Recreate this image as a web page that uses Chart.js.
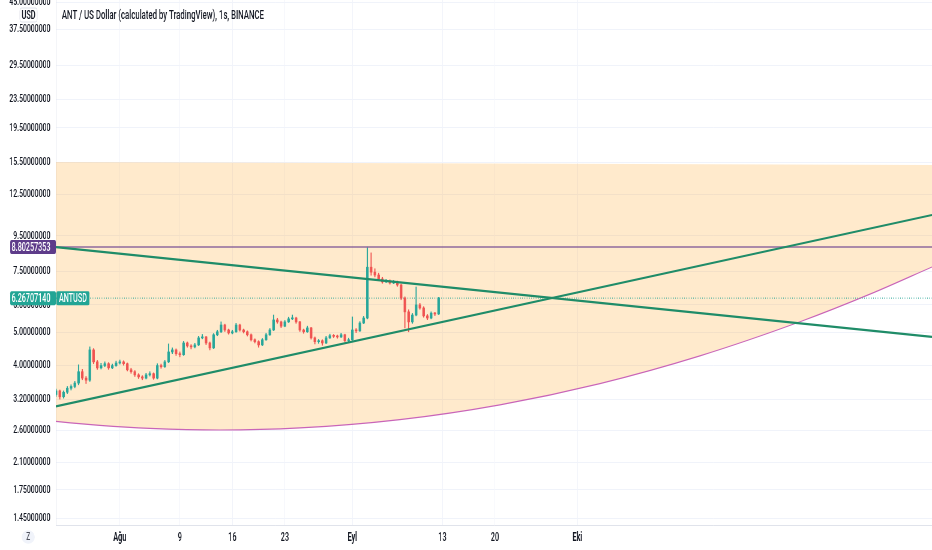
<!DOCTYPE html>
<html>
<head>
<meta charset="utf-8">
<script src="https://cdn.jsdelivr.net/npm/chart.js@4.4.1/dist/chart.umd.min.js"></script>
<style>
  html, body { margin: 0; padding: 0; background: #fff; overflow: hidden; }
  #wrap { width: 1553px; height: 550px; transform-origin: 0 0; }
</style>
</head>
<body>
<div id="wrap"><canvas id="chart" width="1553" height="550"></canvas></div>
<script>
// the reference screenshot is squeezed sideways, so draw wide and scale x down
const W = 1553;
const SQUISH = 932 / W;
document.getElementById('wrap').style.transform = `scaleX(${SQUISH})`;

const FONT = "Roboto, 'Liberation Sans', Arial, sans-serif";
const TITLE = 'ANT / US Dollar (calculated by TradingView), 1s, BINANCE';

// x axis is days counted from 1 Aug
const xMin = -8.53;
const xMax = 108.27;
const dayTicks = [0, 8, 15, 22, 31, 43, 50, 61];
const dayLabels = ['Ağu', '9', '16', '23', 'Eyl', '13', '20', 'Eki'];

const yMin = 1.384;
const yMax = 45.61;
const priceTicks = [1.45, 1.75, 2.1, 2.6, 3.2, 4, 5, 6, 7.5, 9.5, 12.5, 15.5, 19.5, 23.5, 29.5, 37.5, 45];

// 12h candles from 23 Jul 12:00
const candleStart = -8.5;
const candleStep = 0.5;
const opens = [3.30, 3.38, 3.25, 3.35, 3.44, 3.48, 3.56, 3.84, 3.68, 3.63,
  4.44, 4.10, 3.94, 4.00, 4.05, 3.94, 4.00, 4.07, 4.10, 4.05,
  3.89, 3.84, 3.76, 3.71, 3.68, 3.76, 3.79, 3.68, 4.00, 3.97,
  4.10, 4.38, 4.44, 4.33, 4.30, 4.65, 4.56, 4.53, 4.59, 4.81,
  4.84, 4.65, 4.50, 4.91, 5.01, 5.24, 5.07, 4.97, 5.01, 5.24,
  5.07, 5.01, 4.91, 4.75, 4.69, 4.59, 4.75, 4.91, 5.07, 5.42,
  5.35, 5.20, 5.35, 5.46, 5.49, 5.35, 5.07, 5.01, 5.14, 4.81,
  4.69, 4.72, 4.65, 4.81, 4.88, 4.86, 4.84, 4.91, 4.72, 4.75,
  5.07, 5.04, 5.31, 5.49, 7.70, 7.45, 7.31, 7.12, 6.98, 7.02,
  6.93, 6.98, 6.84, 6.27, 5.72, 5.35, 5.60, 5.99, 5.87, 5.57,
  5.49, 5.67, 5.64];
const highs = [3.42, 3.40, 3.38, 3.48, 3.52, 3.60, 4.02, 3.90, 3.72, 4.53,
  4.48, 4.14, 4.06, 4.10, 4.08, 4.04, 4.12, 4.15, 4.13, 4.07,
  3.93, 3.87, 3.79, 3.74, 3.80, 3.84, 3.81, 4.05, 4.04, 4.14,
  4.62, 4.50, 4.47, 4.38, 4.70, 4.68, 4.60, 4.64, 4.86, 4.92,
  4.86, 4.68, 4.95, 5.06, 5.35, 5.27, 5.10, 5.06, 5.30, 5.27,
  5.10, 5.04, 4.94, 4.78, 4.72, 4.79, 4.96, 5.12, 5.60, 5.48,
  5.38, 5.40, 5.52, 5.60, 5.52, 5.37, 5.10, 5.20, 5.16, 4.84,
  4.76, 4.75, 4.86, 4.93, 4.92, 4.90, 4.96, 4.93, 4.80, 5.53,
  5.12, 5.36, 5.55, 8.80, 8.47, 7.62, 7.40, 7.20, 7.10, 7.08,
  7.05, 7.02, 6.88, 6.32, 5.80, 5.66, 6.75, 6.05, 5.92, 5.62,
  5.72, 5.70, 6.30];
const lows = [3.26, 3.20, 3.22, 3.32, 3.40, 3.45, 3.52, 3.64, 3.55, 3.60,
  4.05, 3.90, 3.91, 3.97, 3.90, 3.92, 3.98, 4.04, 4.01, 3.86,
  3.80, 3.72, 3.67, 3.64, 3.66, 3.73, 3.65, 3.66, 3.93, 3.95,
  4.08, 4.33, 4.28, 4.24, 4.28, 4.52, 4.47, 4.50, 4.57, 4.78,
  4.60, 4.44, 4.48, 4.88, 4.98, 5.02, 4.93, 4.94, 4.99, 5.03,
  4.97, 4.87, 4.71, 4.65, 4.52, 4.57, 4.73, 4.89, 5.05, 5.30,
  5.15, 5.18, 5.33, 5.43, 5.30, 5.02, 4.96, 4.99, 4.77, 4.62,
  4.64, 4.58, 4.63, 4.79, 4.82, 4.80, 4.82, 4.68, 4.66, 4.73,
  4.98, 5.02, 5.29, 5.46, 7.30, 7.22, 7.05, 6.92, 6.95, 6.88,
  6.90, 6.78, 6.20, 5.14, 5.01, 5.30, 5.57, 5.82, 5.52, 5.43,
  5.46, 5.58, 5.62];
const closes = [3.38, 3.25, 3.35, 3.44, 3.48, 3.56, 3.84, 3.68, 3.63, 4.44,
  4.10, 3.94, 4.00, 4.05, 3.94, 4.00, 4.07, 4.10, 4.05, 3.89,
  3.84, 3.76, 3.71, 3.68, 3.76, 3.79, 3.68, 4.00, 3.97, 4.10,
  4.38, 4.44, 4.33, 4.30, 4.65, 4.56, 4.53, 4.59, 4.81, 4.84,
  4.65, 4.50, 4.91, 5.01, 5.24, 5.07, 4.97, 5.01, 5.24, 5.07,
  5.01, 4.91, 4.75, 4.69, 4.59, 4.75, 4.91, 5.07, 5.42, 5.35,
  5.20, 5.35, 5.46, 5.49, 5.35, 5.07, 5.01, 5.14, 4.81, 4.69,
  4.72, 4.65, 4.81, 4.88, 4.86, 4.84, 4.91, 4.72, 4.75, 5.07,
  5.04, 5.31, 5.49, 7.70, 7.45, 7.31, 7.12, 6.98, 7.02, 6.93,
  6.98, 6.84, 6.27, 5.72, 5.35, 5.60, 5.99, 5.87, 5.57, 5.49,
  5.67, 5.64, 6.27];

// drawings
const levelPrice = 8.80257353;
const lastPrice = 6.26707140;
const edgeDays = [xMin, xMax];
const fallLineValues = [8.80, 4.84];
const riseLineValues = [3.05, 10.90];
const zoneTopValues = [15.52, 15.21];
const curveDays = [-8.53, -2.67, 4, 13.33, 24, 37.33, 50.67, 64, 77.33, 90.67, 100, 108.27];
const curveValues = [2.758, 2.686, 2.633, 2.605, 2.642, 2.792, 3.081, 3.548, 4.267, 5.354, 6.434, 7.712];

const UP = '#26a69a';
const DOWN = '#ef5350';
const TEAL = '#22a595';
const PURPLE = '#5e3c8a';
const LEVEL = '#8f6a9c';
const TREND = '#1f8c68';

const candleDays = closes.map((_, i) => candleStart + i * candleStep);
const candleColors = closes.map((c, i) => (c >= opens[i] ? UP : DOWN));
const pts = (days, vals) => days.map((d, i) => ({ x: d, y: vals[i] }));

const overlay = {
  id: 'overlay',
  afterDraw(chart) {
    const { ctx, chartArea } = chart;
    const y = chart.scales.y;
    ctx.save();
    ctx.textBaseline = 'middle';

    const box = (x, top, w, h, r, color) => {
      ctx.fillStyle = color;
      ctx.beginPath();
      ctx.roundRect(x, top, w, h, r);
      ctx.fill();
    };

    // price tags on the axis
    ctx.font = `500 12px ${FONT}`;
    const tag = (value, color) => {
      const py = y.getPixelForValue(value);
      box(17, py - 7, chartArea.left - 17, 14, 2, color);
      ctx.fillStyle = '#fff';
      ctx.textAlign = 'right';
      ctx.fillText(value.toFixed(8), chartArea.left - 9, py + 0.5);
      return py;
    };
    tag(levelPrice, PURPLE);
    const lastY = tag(lastPrice, TEAL);
    box(chartArea.left + 1, lastY - 7, 55, 14, 2, TEAL);
    ctx.fillStyle = '#fff';
    ctx.textAlign = 'center';
    ctx.fillText('ANTUSD', chartArea.left + 28.5, lastY + 0.5);

    // currency badge
    ctx.fillStyle = '#fff';
    ctx.strokeStyle = '#e0e3eb';
    ctx.beginPath();
    ctx.roundRect(33, 8, 29, 14, 3);
    ctx.fill();
    ctx.stroke();
    ctx.fillStyle = '#131722';
    ctx.fillText('USD', 47.5, 15.5);

    // symbol title
    ctx.font = `500 13px ${FONT}`;
    ctx.textAlign = 'left';
    ctx.fillText(TITLE, 103, 15.5);

    // "Z" button, widened so it looks round after the squeeze
    ctx.fillStyle = '#f0f3fa';
    ctx.beginPath();
    ctx.ellipse(47, 537, 11, 6.8, 0, 0, Math.PI * 2);
    ctx.fill();
    ctx.fillStyle = '#50535e';
    ctx.font = `500 11px ${FONT}`;
    ctx.textAlign = 'center';
    ctx.fillText('Z', 47, 537.5);
    ctx.restore();
  }
};

new Chart(document.getElementById('chart'), {
  type: 'bar',
  data: {
    datasets: [
      {
        type: 'line', data: pts(edgeDays, zoneTopValues), order: 9,
        borderWidth: 0, pointRadius: 0, fill: false
      },
      {
        type: 'line', data: pts(curveDays, curveValues), order: 8,
        borderColor: '#c965b8', borderWidth: 1.2, pointRadius: 0,
        cubicInterpolationMode: 'monotone',
        fill: { target: 0 }, backgroundColor: 'rgba(255, 152, 0, 0.2)'
      },
      {
        type: 'line', data: pts(edgeDays, [lastPrice, lastPrice]), order: 6,
        borderColor: TEAL, borderWidth: 1, borderDash: [1, 2], pointRadius: 0
      },
      {
        data: candleDays.map((d, i) => ({ x: d, y: [lows[i], highs[i]] })), order: 3,
        backgroundColor: candleColors, barThickness: 1.2, grouped: false
      },
      {
        data: candleDays.map((d, i) => ({ x: d, y: [opens[i], closes[i]] })), order: 2,
        backgroundColor: candleColors, barThickness: 3.5, minBarLength: 1, grouped: false
      },
      {
        type: 'line', data: pts(edgeDays, [levelPrice, levelPrice]), order: 1,
        borderColor: LEVEL, borderWidth: 1.5, pointRadius: 0
      },
      {
        type: 'line', data: pts(edgeDays, fallLineValues), order: 0,
        borderColor: TREND, borderWidth: 2.2, pointRadius: 0
      },
      {
        type: 'line', data: pts(edgeDays, riseLineValues), order: 0,
        borderColor: TREND, borderWidth: 2.2, pointRadius: 0
      }
    ]
  },
  options: {
    responsive: false,
    animation: false,
    devicePixelRatio: 1,
    layout: { padding: 0 },
    plugins: { legend: { display: false }, tooltip: { enabled: false } },
    scales: {
      x: {
        type: 'linear', min: xMin, max: xMax, offset: false,
        grid: { color: '#f0f3fa', drawTicks: false, offset: false },
        border: { color: '#e0e3eb' },
        afterBuildTicks: (s) => { s.ticks = dayTicks.map((v) => ({ value: v })); },
        afterFit: (s) => { s.height = 25; s.paddingLeft = 0; s.paddingRight = 0; },
        ticks: {
          autoSkip: false, maxRotation: 0, padding: 6, color: '#131722',
          font: (c) => ({ family: FONT, size: 12, weight: isNaN(+dayLabels[c.index]) ? 'bold' : 500 }),
          callback: (v, i) => dayLabels[i]
        }
      },
      y: {
        type: 'logarithmic', position: 'left', min: yMin, max: yMax,
        grid: { color: '#f0f3fa', drawTicks: false },
        border: { color: '#e0e3eb' },
        afterBuildTicks: (s) => { s.ticks = priceTicks.map((v) => ({ value: v })); },
        afterFit: (s) => { s.width = 93; s.paddingTop = 0; s.paddingBottom = 0; },
        ticks: {
          autoSkip: false, padding: 9, color: '#131722',
          font: { family: FONT, size: 11.5, weight: 500 },
          callback: (v) => Number(v).toFixed(8)
        }
      }
    }
  },
  plugins: [overlay]
});
</script>
</body>
</html>
